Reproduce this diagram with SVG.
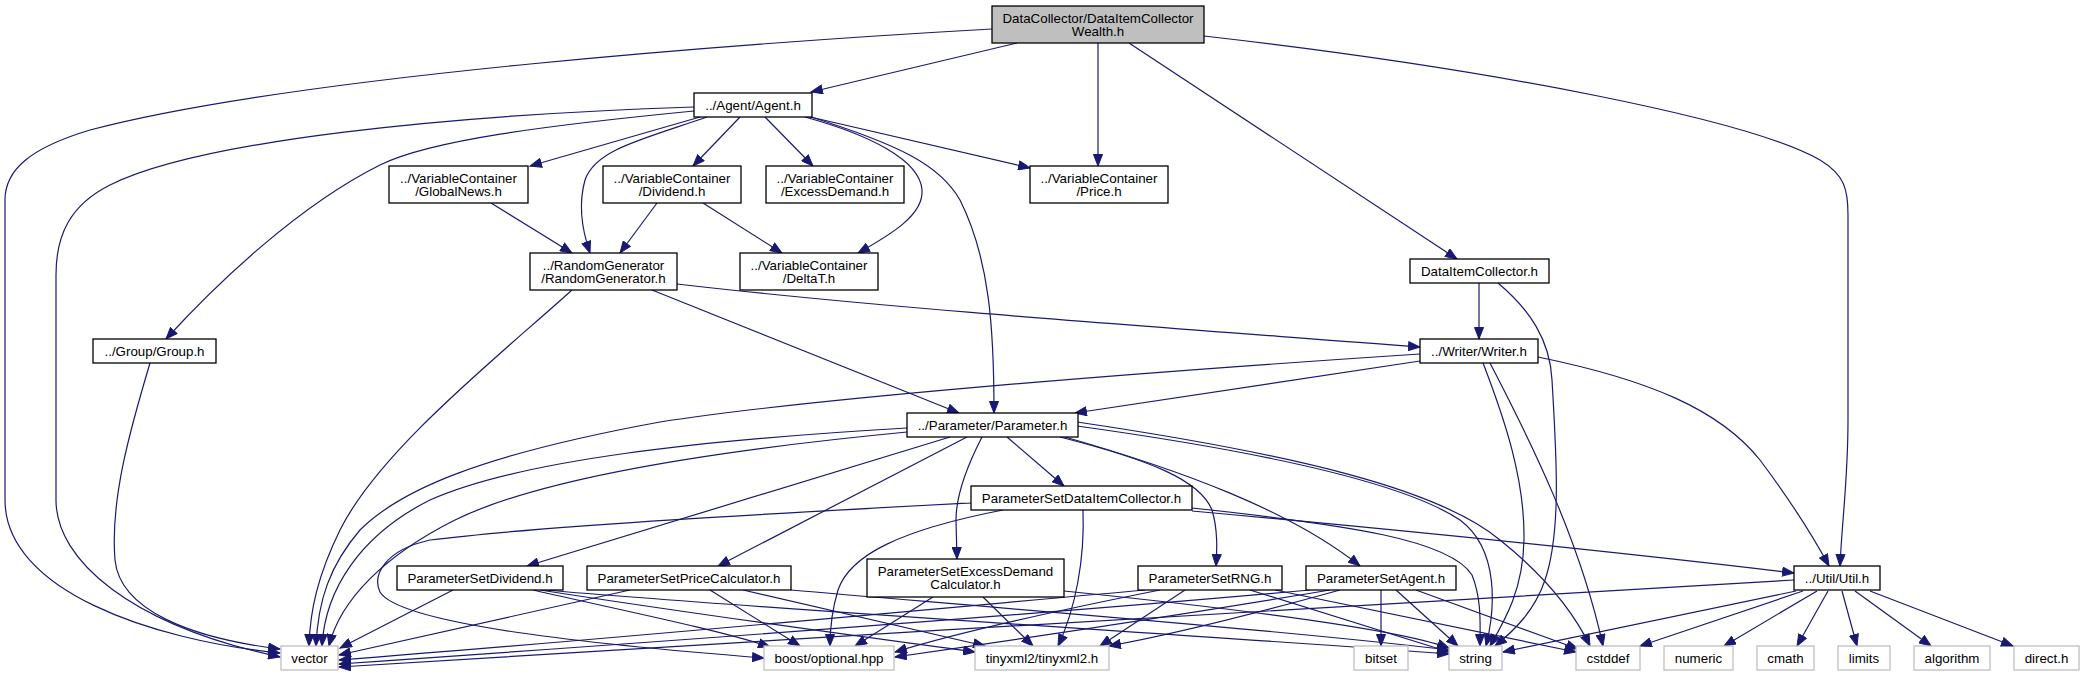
<svg xmlns="http://www.w3.org/2000/svg" width="2085" height="676" viewBox="0 0 2085 676">
<style>
.n rect{fill:#fff;stroke:#000;stroke-width:1.3}
.r rect{fill:#bfbfbf;stroke:#000;stroke-width:1.3}
.s rect{fill:#fff;stroke:#bfbfbf;stroke-width:1.3}
text{font-family:"Liberation Sans",Arial,Helvetica,sans-serif;font-size:13.33px;text-anchor:middle;fill:#000}
#edges path{fill:none;stroke:#191970;stroke-width:1.2;marker-end:url(#a)}
</style>
<defs>
<marker id="a" markerUnits="userSpaceOnUse" markerWidth="13" markerHeight="10" refX="12" refY="5" orient="auto" viewBox="0 0 13 10">
<path d="M0.5,0.5 L12,5 L0.5,9.5 z" fill="#191970" stroke="#191970" stroke-width="1"/>
</marker>
</defs>
<rect width="2085" height="676" fill="#fff"/>
<g id="edges">
<path d="M992,29 C760,42 300,75 90,130 C30,148 5,170 5,200 L5,500 C5,590 150,640 280,653"/>
<path d="M1017,43 L811,92"/>
<path d="M1098,43 L1098,166"/>
<path d="M1129,43 L1457,259"/>
<path d="M1204,36 C1500,70 1750,120 1820,160 C1845,175 1848,190 1848,215 L1848,420 C1848,480 1842,520 1840,566"/>
<path d="M694,107 C450,115 200,140 110,185 C70,205 56,235 56,275 L56,500 C56,560 130,625 280,657"/>
<path d="M694,111 C550,125 430,140 380,165 C300,205 220,280 166,339"/>
<path d="M700,117 L530,166"/>
<path d="M707,117 C640,140 595,150 585,180 C578,205 582,230 590,253"/>
<path d="M740,117 L693,166"/>
<path d="M765,117 L813,166"/>
<path d="M805,117 C870,135 920,160 922,190 C924,215 890,235 858,253"/>
<path d="M806,116 L1030,168"/>
<path d="M808,116 C900,145 940,165 960,200 C990,260 994,330 994,413"/>
<path d="M491,203 L572,253"/>
<path d="M657,203 L620,253"/>
<path d="M703,203 L782,253"/>
<path d="M572,290 C500,355 380,450 340,530 C318,575 310,610 309,646"/>
<path d="M652,290 L959,413"/>
<path d="M677,284 C900,310 1200,330 1420,347"/>
<path d="M150,363 C130,430 110,500 115,560 C120,610 190,638 280,649"/>
<path d="M1479,283 L1479,339"/>
<path d="M1498,283 C1530,310 1550,340 1552,380 C1556,450 1562,530 1545,580 C1535,610 1515,630 1495,646"/>
<path d="M1420,354 C1100,375 800,400 660,422 C480,455 400,490 360,530 C330,565 318,600 316,646"/>
<path d="M1420,361 L1075,413"/>
<path d="M1483,363 C1505,420 1525,480 1524,540 C1523,590 1505,620 1490,646"/>
<path d="M1490,363 C1530,440 1580,540 1603,646"/>
<path d="M1538,357 C1650,380 1720,410 1760,460 C1790,500 1815,540 1829,566"/>
<path d="M907,428 C700,440 520,460 430,500 C360,535 325,590 322,646"/>
<path d="M907,432 C720,450 540,478 455,520 C385,555 340,600 329,646"/>
<path d="M950,437 L527,566"/>
<path d="M967,437 L718,566"/>
<path d="M982,437 C965,470 956,500 956,520 L957,559"/>
<path d="M1007,437 L1064,486"/>
<path d="M1060,437 C1150,460 1200,480 1212,510 C1218,530 1217,550 1216,566"/>
<path d="M1065,437 C1180,470 1290,510 1360,566"/>
<path d="M1077,426 C1250,450 1400,480 1460,520 C1500,550 1495,610 1486,646"/>
<path d="M1077,422 C1300,455 1440,490 1500,540 C1550,580 1575,615 1590,646"/>
<path d="M971,503 C800,512 550,525 430,540 C385,550 372,575 380,592 C400,625 600,645 764,658"/>
<path d="M1003,510 C900,530 850,555 838,590 C832,610 830,630 830,646"/>
<path d="M1083,510 C1085,560 1075,610 1058,646"/>
<path d="M1192,508 C1350,525 1450,540 1472,575 C1482,600 1480,625 1480,646"/>
<path d="M1192,511 C1400,530 1600,550 1794,573"/>
<path d="M453,590 L340,648"/>
<path d="M533,590 C620,610 720,630 770,647"/>
<path d="M540,590 C700,615 850,635 975,652"/>
<path d="M545,590 C800,612 1200,635 1449,654"/>
<path d="M630,590 L339,655"/>
<path d="M710,590 L800,646"/>
<path d="M743,590 L985,646"/>
<path d="M791,590 C1000,608 1300,632 1449,650"/>
<path d="M933,597 L855,646"/>
<path d="M983,597 L1033,646"/>
<path d="M1064,591 C1250,610 1400,630 1449,648"/>
<path d="M1145,590 C900,612 600,640 339,660"/>
<path d="M1160,590 C1050,612 950,635 895,652"/>
<path d="M1185,590 L1100,646"/>
<path d="M1250,590 L1449,652"/>
<path d="M1275,590 L1576,652"/>
<path d="M1310,590 C1000,618 600,646 339,664"/>
<path d="M1330,590 C1150,620 1000,642 895,657"/>
<path d="M1340,590 C1250,615 1170,635 1109,646"/>
<path d="M1381,590 L1381,646"/>
<path d="M1396,590 L1458,646"/>
<path d="M1416,590 L1578,649"/>
<path d="M1794,580 C1400,600 800,640 339,667"/>
<path d="M1796,591 L1503,652"/>
<path d="M1803,591 L1640,646"/>
<path d="M1817,591 L1724,646"/>
<path d="M1828,591 L1797,646"/>
<path d="M1842,591 L1857,646"/>
<path d="M1855,591 L1931,646"/>
<path d="M1870,591 L2013,646"/>
</g>
<g id="root" class="r"><rect x="992" y="6" width="212" height="37"/><text x="1098" y="22.5">DataCollector/DataItemCollector</text><text x="1098" y="36">Wealth.h</text></g>
<g id="agent" class="n"><rect x="694" y="93" width="118" height="24"/><text x="753" y="109.5">../Agent/Agent.h</text></g>
<g id="globalnews" class="n"><rect x="389" y="166" width="139" height="37"/><text x="458.5" y="182.5">../VariableContainer</text><text x="458.5" y="195.5">/GlobalNews.h</text></g>
<g id="dividend" class="n"><rect x="603" y="166" width="138" height="37"/><text x="672" y="182.5">../VariableContainer</text><text x="672" y="195.5">/Dividend.h</text></g>
<g id="excessdemand" class="n"><rect x="766" y="166" width="138" height="37"/><text x="835" y="182.5">../VariableContainer</text><text x="835" y="195.5">/ExcessDemand.h</text></g>
<g id="price" class="n"><rect x="1030" y="166" width="138" height="37"/><text x="1099" y="182.5">../VariableContainer</text><text x="1099" y="195.5">/Price.h</text></g>
<g id="randomgenerator" class="n"><rect x="530" y="253" width="147" height="37"/><text x="603.5" y="269.5">../RandomGenerator</text><text x="603.5" y="282.5">/RandomGenerator.h</text></g>
<g id="deltat" class="n"><rect x="740" y="253" width="138" height="37"/><text x="809" y="269.5">../VariableContainer</text><text x="809" y="282.5">/DeltaT.h</text></g>
<g id="dataitemcollector" class="n"><rect x="1410" y="259" width="139" height="24"/><text x="1479.5" y="275.5">DataItemCollector.h</text></g>
<g id="group" class="n"><rect x="93" y="339" width="123" height="24"/><text x="154.5" y="355.5">../Group/Group.h</text></g>
<g id="writer" class="n"><rect x="1420" y="339" width="118" height="24"/><text x="1479" y="355.5">../Writer/Writer.h</text></g>
<g id="parameter" class="n"><rect x="907" y="413" width="171" height="24"/><text x="992.5" y="429.5">../Parameter/Parameter.h</text></g>
<g id="psdataitemcollector" class="n"><rect x="971" y="486" width="221" height="24"/><text x="1081.5" y="502.5">ParameterSetDataItemCollector.h</text></g>
<g id="psdividend" class="n"><rect x="397" y="566" width="166" height="24"/><text x="480" y="582.5">ParameterSetDividend.h</text></g>
<g id="pspricecalculator" class="n"><rect x="587" y="566" width="204" height="24"/><text x="689" y="582.5">ParameterSetPriceCalculator.h</text></g>
<g id="psexcessdemandcalculator" class="n"><rect x="867" y="559" width="197" height="38"/><text x="965.5" y="575.5">ParameterSetExcessDemand</text><text x="965.5" y="588.5">Calculator.h</text></g>
<g id="psrng" class="n"><rect x="1138" y="566" width="144" height="24"/><text x="1210" y="582.5">ParameterSetRNG.h</text></g>
<g id="psagent" class="n"><rect x="1306" y="566" width="150" height="24"/><text x="1381" y="582.5">ParameterSetAgent.h</text></g>
<g id="util" class="n"><rect x="1794" y="566" width="86" height="24"/><text x="1837" y="582.5">../Util/Util.h</text></g>
<g id="vector" class="s"><rect x="281" y="646" width="57" height="24"/><text x="309.5" y="662.5">vector</text></g>
<g id="boost-optional" class="s"><rect x="764" y="646" width="130" height="24"/><text x="829" y="662.5">boost/optional.hpp</text></g>
<g id="tinyxml2" class="s"><rect x="975" y="646" width="134" height="24"/><text x="1042" y="662.5">tinyxml2/tinyxml2.h</text></g>
<g id="bitset" class="s"><rect x="1354" y="646" width="54" height="24"/><text x="1381" y="662.5">bitset</text></g>
<g id="string" class="s"><rect x="1449" y="646" width="53" height="24"/><text x="1475.5" y="662.5">string</text></g>
<g id="cstddef" class="s"><rect x="1576" y="646" width="64" height="24"/><text x="1608" y="662.5">cstddef</text></g>
<g id="numeric" class="s"><rect x="1664" y="646" width="69" height="24"/><text x="1698.5" y="662.5">numeric</text></g>
<g id="cmath" class="s"><rect x="1757" y="646" width="57" height="24"/><text x="1785.5" y="662.5">cmath</text></g>
<g id="limits" class="s"><rect x="1838" y="646" width="52" height="24"/><text x="1864" y="662.5">limits</text></g>
<g id="algorithm" class="s"><rect x="1914" y="646" width="76" height="24"/><text x="1952" y="662.5">algorithm</text></g>
<g id="direct-h" class="s"><rect x="2014" y="646" width="65" height="24"/><text x="2046.5" y="662.5">direct.h</text></g>
</svg>
